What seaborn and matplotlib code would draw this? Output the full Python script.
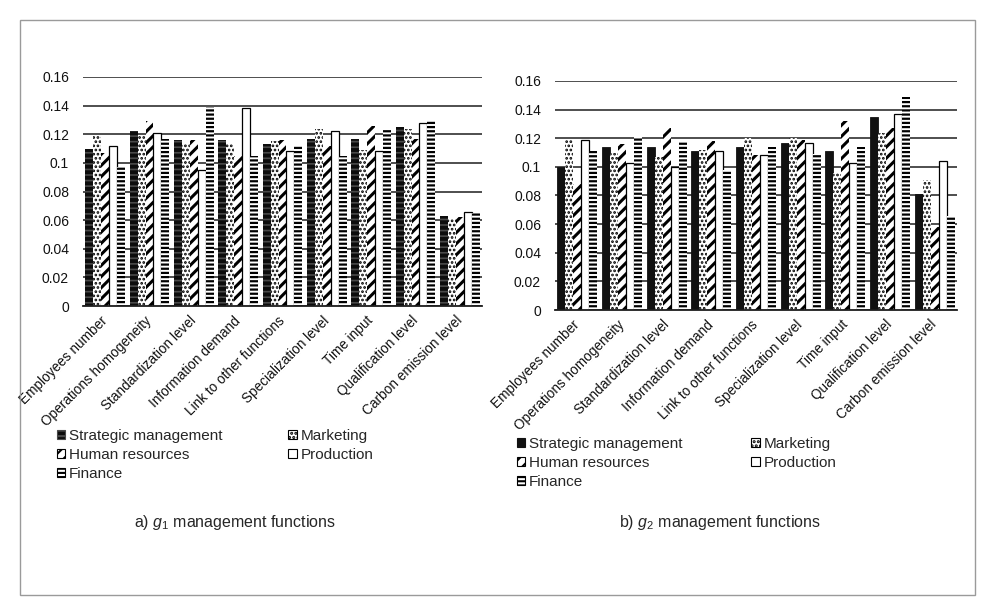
import matplotlib
matplotlib.use("Agg")
import matplotlib.pyplot as plt
import matplotlib.patches as mpatches
import seaborn as sns
import pandas as pd

criteria = ['Employees number', 'Operations homogeneity', 'Standardization level',
            'Information demand', 'Link to other functions', 'Specialization level',
            'Time input', 'Qualification level', 'Carbon emission level']
functions = ['Strategic management', 'Marketing', 'Human resources', 'Production', 'Finance']

g1_strategic = [0.110, 0.122, 0.116, 0.116, 0.113, 0.117, 0.117, 0.125, 0.063]
g1_marketing = [0.119, 0.119, 0.114, 0.114, 0.115, 0.124, 0.109, 0.124, 0.061]
g1_hr = [0.107, 0.129, 0.116, 0.105, 0.116, 0.112, 0.126, 0.117, 0.062]
g1_production = [0.112, 0.121, 0.095, 0.138, 0.108, 0.122, 0.108, 0.128, 0.066]
g1_finance = [0.097, 0.117, 0.139, 0.105, 0.112, 0.105, 0.124, 0.129, 0.065]

g2_strategic = [0.100, 0.114, 0.114, 0.111, 0.114, 0.117, 0.111, 0.135, 0.081]
g2_marketing = [0.119, 0.110, 0.107, 0.112, 0.120, 0.120, 0.096, 0.124, 0.091]
g2_hr = [0.088, 0.116, 0.127, 0.118, 0.108, 0.119, 0.132, 0.127, 0.058]
g2_production = [0.119, 0.103, 0.100, 0.111, 0.108, 0.117, 0.103, 0.137, 0.104]
g2_finance = [0.111, 0.121, 0.118, 0.098, 0.114, 0.109, 0.114, 0.149, 0.066]

y_ticks = [0, 0.02, 0.04, 0.06, 0.08, 0.10, 0.12, 0.14, 0.16]
captions = [r'a) $\mathit{g}_{\mathit{1}}$ management functions',
            r'b) $\mathit{g}_{\mathit{2}}$ management functions']


def long_df(series):
    rows = []
    for f, vals in zip(functions, series):
        for c, v in zip(criteria, vals):
            rows.append({'Criterion': c, 'Function': f, 'Value': v})
    return pd.DataFrame(rows)


df1 = long_df([g1_strategic, g1_marketing, g1_hr, g1_production, g1_finance])
df2 = long_df([g2_strategic, g2_marketing, g2_hr, g2_production, g2_finance])

sns.set_theme(style='white')
plt.rcParams['font.family'] = ['Liberation Sans', 'DejaVu Sans']
plt.rcParams['mathtext.fontset'] = 'custom'
plt.rcParams['mathtext.rm'] = 'Liberation Sans'
plt.rcParams['mathtext.it'] = 'Liberation Sans:italic'
plt.rcParams['hatch.linewidth'] = 1.5
plt.rcParams['hatch.color'] = 'black'

styles_common = {
    'Marketing': dict(facecolor='white', edgecolor='black', hatch='....', linewidth=0, hlw=1.3),
    'Human resources': dict(facecolor='white', edgecolor='black', hatch='///', linewidth=0, hlw=2.2),
    'Production': dict(facecolor='white', edgecolor='black', hatch=None, linewidth=0.9, hlw=1.0),
    'Finance': dict(facecolor='white', edgecolor='black', hatch='----', linewidth=0, hlw=1.6),
}
styles1 = dict(styles_common)
styles1['Strategic management'] = dict(facecolor='#0c0c0c', edgecolor='#4a4a4a', hatch='---',
                                       linewidth=0, hlw=1.2)
styles2 = dict(styles_common)
styles2['Strategic management'] = dict(facecolor='#111111', edgecolor='#111111', hatch=None,
                                       linewidth=0.6, hlw=1.0)

fig = plt.figure(figsize=(9.92, 6.15), dpi=100)
ax1 = fig.add_axes([83 / 992, 1 - 306 / 615, 399 / 992, 229 / 615])
ax2 = fig.add_axes([555 / 992, 1 - 310 / 615, 402 / 992, 229 / 615])

for ax, df, styles in [(ax1, df1, styles1), (ax2, df2, styles2)]:
    sns.barplot(data=df, x='Criterion', y='Value', hue='Function', order=criteria,
                hue_order=functions, palette=['white'] * 5, saturation=1,
                width=0.89, errorbar=None, legend=False, ax=ax)
    for f, cont in zip(functions, ax.containers):
        st = styles[f]
        for p in cont.patches:
            p.set_facecolor(st['facecolor'])
            p.set_edgecolor(st['edgecolor'])
            p.set_linewidth(st['linewidth'])
            if st['hatch']:
                p.set_hatch(st['hatch'])
                try:
                    p.set_hatch_linewidth(st['hlw'])
                except AttributeError:
                    pass
    ax.set_ylim(0, 0.16)
    ax.set_xlim(-0.5, 8.5)
    ax.set_yticks(y_ticks)
    ax.set_yticklabels([f'{v:g}' for v in y_ticks], fontsize=10)
    ax.set_axisbelow(True)
    ax.yaxis.grid(True, color='#1e1e1e', linewidth=1.1)
    ax.xaxis.grid(False)
    for s in ['top', 'right', 'left']:
        ax.spines[s].set_visible(False)
    ax.spines['bottom'].set_color('#1e1e1e')
    ax.spines['bottom'].set_linewidth(1.3)
    ax.tick_params(axis='both', length=0, colors='#111111')
    ax.tick_params(axis='y', pad=10)
    ax.set_xticks(range(len(criteria)))
    ax.set_xticklabels(criteria, rotation=45, ha='right', va='center',
                       rotation_mode='anchor', fontsize=9.8)
    ax.tick_params(axis='x', pad=9)
    ax.set_xlabel('')
    ax.set_ylabel('')

# legends
order = ['Strategic management', 'Human resources', 'Finance', 'Marketing', 'Production']
for (x0, y0), styles, cs in [((57, 429), styles1, 4.3), ((517, 437), styles2, 4.5)]:
    handles = []
    for f in order:
        st = styles[f]
        handles.append(mpatches.Patch(facecolor=st['facecolor'], edgecolor=st['edgecolor'],
                                      hatch=st['hatch'], linewidth=0.8, label=f))
    fig.legend(handles=handles, labels=order, ncol=2, loc='upper left',
               bbox_to_anchor=(x0 / 992, 1 - y0 / 615), frameon=False, fontsize=11,
               handlelength=0.55, handleheight=0.55, handletextpad=0.25,
               columnspacing=cs, labelspacing=0.33, borderpad=0, borderaxespad=0)

fig.text(235 / 992, 1 - 522 / 615, captions[0], ha='center', va='center', fontsize=11.5)
fig.text(720 / 992, 1 - 522 / 615, captions[1], ha='center', va='center', fontsize=11.5)

fig.patches.append(mpatches.Rectangle((20 / 992, 1 - 595 / 615), 955 / 992, 575 / 615,
                                      transform=fig.transFigure, fill=False,
                                      edgecolor='#9a9a9a', linewidth=1.0))

fig.savefig('out.png', dpi=100)
